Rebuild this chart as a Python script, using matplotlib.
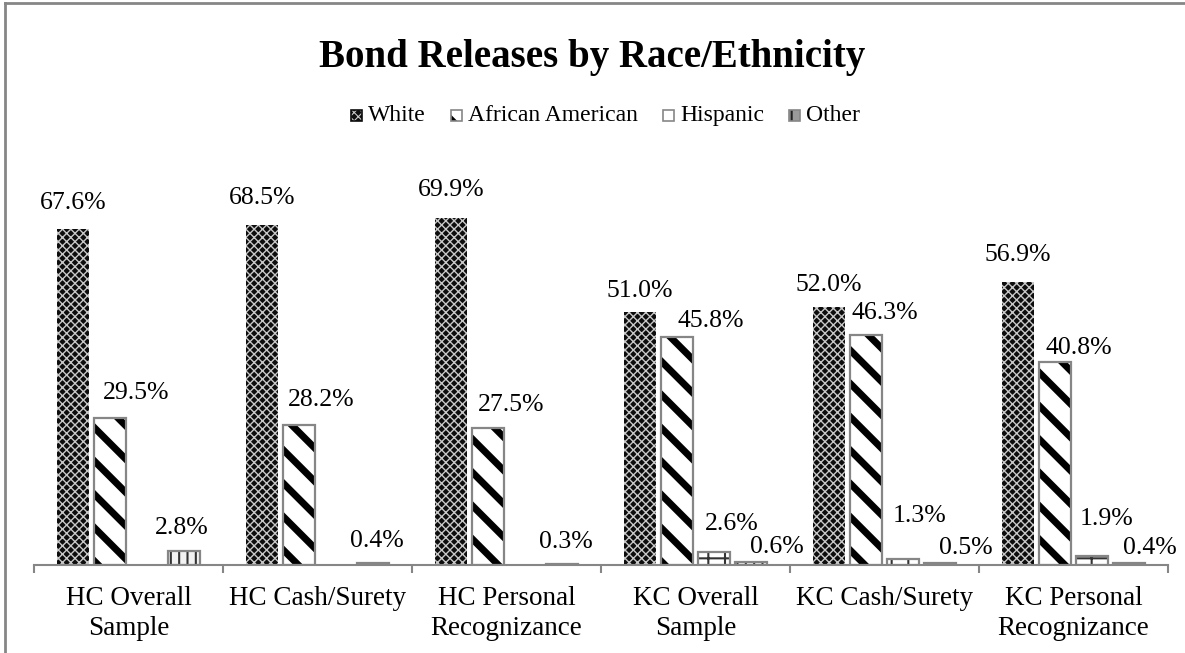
import numpy as np
import matplotlib
matplotlib.use("Agg")
import matplotlib.pyplot as plt
from matplotlib.patches import Rectangle

plt.rcParams['font.family'] = ['Liberation Serif', 'DejaVu Serif']

# ---- data ----
categories = ["HC Overall\nSample", "HC Cash/Surety", "HC Personal\nRecognizance",
              "KC Overall\nSample", "KC Cash/Surety", "KC Personal\nRecognizance"]
series_names = ["White", "African American", "Hispanic", "Other"]
white = [67.6, 68.5, 69.9, 51.0, 52.0, 56.9]
african_american = [29.5, 28.2, 27.5, 45.8, 46.3, 40.8]
hispanic = [np.nan, np.nan, np.nan, 2.6, 1.3, 1.9]
other = [2.8, 0.4, 0.3, 0.6, 0.5, 0.4]
series_values = [white, african_american, hispanic, other]

# ---- styling ----
W, H, DPI = 1185, 653, 100
fig = plt.figure(figsize=(W / DPI, H / DPI), dpi=DPI)
ax_left, ax_right, ax_base = 34, 1168, 565
ymax = 80
px_per_unit = 4.97
ax_top = ax_base - ymax * px_per_unit
ax = fig.add_axes([ax_left / W, 1 - ax_base / H, (ax_right - ax_left) / W,
                   (ax_base - ax_top) / H])

gray = "#868686"
styles = [
    dict(face="#0d0d0d", hatch="xxxx", hcolor="#c8c8c8", hlw=1.0, outline=None),
    dict(face="white", hatch="\\", hcolor="black", hlw=5.0, outline=gray),
    dict(face="white", hatch="+", hcolor="#333333", hlw=1.5, outline=gray),
    dict(face="#f2f2f2", hatch="||", hcolor="#333333", hlw=1.5, outline=gray),
]
# small legend swatches: (face, hatch, hatch colour, hatch width, edge)
swatches = [
    ("#0d0d0d", "xxxx", "#c8c8c8", 0.8, "#0d0d0d"),
    ("white", "\\", "black", 3.0, gray),
    ("white", "-", "#444444", 2.0, gray),
    ("#9a9a9a", "+", "#222222", 1.5, gray),
]

x = np.arange(len(categories))
pitch, width = 0.196, 0.168

for i, (vals, st) in enumerate(zip(series_values, styles)):
    pos = x + (i - 1.5) * pitch
    with plt.rc_context({'hatch.linewidth': st["hlw"]}):
        ax.bar(pos, vals, width, color=st["face"], hatch=st["hatch"],
               edgecolor=st["hcolor"], linewidth=0, zorder=2)
    if st["outline"]:
        ax.bar(pos, vals, width, fill=False, edgecolor=st["outline"],
               linewidth=1.6, zorder=3)

# value labels: (dx, dy) offsets in pixels from each bar's top centre
label_offsets = [
    [(0, 26), (0, 27), (0, 28), (0, 21), (0, 22), (0, 27)],
    [(26, 25), (22, 25), (23, 23), (34, 16), (19, 22), (24, 14)],
    [None, None, None, (18, 28), (17, 43), (15, 37)],
    [(-2, 23), (4, 22), (4, 22), (26, 15), (26, 15), (21, 15)],
]
for i, vals in enumerate(series_values):
    pos = x + (i - 1.5) * pitch
    for j, v in enumerate(vals):
        if np.isnan(v):
            continue
        dx, dy = label_offsets[i][j]
        ax.annotate(f"{v:.1f}%", (pos[j], v), xytext=(dx, dy),
                    textcoords="offset pixels", ha="center", va="center",
                    fontsize=18.5, zorder=5)

ax.set_xlim(-0.5, len(categories) - 0.5)
ax.set_ylim(0, ymax)
ax.set_yticks([])
for s in ("left", "top", "right"):
    ax.spines[s].set_visible(False)
ax.spines["bottom"].set_color(gray)
ax.spines["bottom"].set_linewidth(1.5)
ax.set_xticks(x)
ax.set_xticklabels(categories, fontsize=19.5, linespacing=1.25)
ax.tick_params(axis="x", which="major", length=0, pad=15)
ax.set_xticks(np.arange(len(categories) + 1) - 0.5, minor=True)
ax.tick_params(axis="x", which="minor", length=6, width=1.5, color=gray,
               direction="out")

fig.text(0.5, 1 - 57 / H, "Bond Releases by Race/Ethnicity", ha="center",
         va="center", fontsize=28, fontweight="bold")

# legend laid out by hand so all labels share one baseline
leg_y = 115          # centre line, pixels from top
leg_cx = W / 2 + 13  # horizontal centre, pixels
box = 11             # marker size, pixels
gap_marker = 6       # marker-to-text gap
gap_item = 25        # space between entries
renderer = fig.canvas.get_renderer()
texts = [fig.text(0, 0, n, fontsize=17, va="baseline") for n in series_names]
widths = [t.get_window_extent(renderer).width for t in texts]
total = sum(box + gap_marker + w for w in widths) + gap_item * (len(widths) - 1)
cur = leg_cx - total / 2
baseline_y = leg_y + 6
for t, w, (face, hatch, hcol, hlw, edge) in zip(texts, widths, swatches):
    with plt.rc_context({'hatch.linewidth': hlw}):
        r = Rectangle((cur / W, 1 - (leg_y + box / 2) / H), box / W, box / H,
                      transform=fig.transFigure, facecolor=face, hatch=hatch,
                      edgecolor=hcol, linewidth=0)
    fig.add_artist(r)
    fig.add_artist(Rectangle((cur / W, 1 - (leg_y + box / 2) / H), box / W,
                             box / H, transform=fig.transFigure, fill=False,
                             edgecolor=edge, linewidth=1.2))
    t.set_position(((cur + box + gap_marker) / W, 1 - baseline_y / H))
    cur += box + gap_marker + w + gap_item

# chart frame (left and top edges)
fig.add_artist(plt.Line2D([5 / W, 5 / W], [0, 1 - 3 / H], color=gray, lw=2,
                          transform=fig.transFigure))
fig.add_artist(plt.Line2D([5 / W, 1], [1 - 3 / H, 1 - 3 / H], color=gray, lw=2,
                          transform=fig.transFigure))

fig.savefig("out.png", dpi=DPI)
